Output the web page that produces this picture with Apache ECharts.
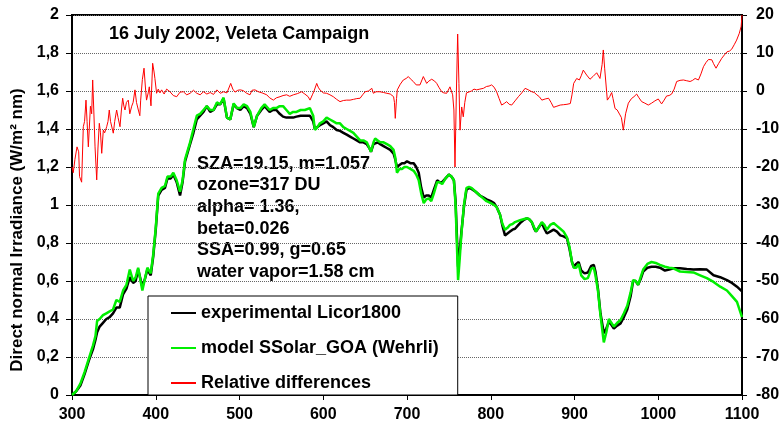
<!DOCTYPE html>
<html>
<head>
<meta charset="utf-8">
<script src="https://cdn.jsdelivr.net/npm/echarts@6/dist/echarts.min.js"></script>
<style>
  html, body { margin: 0; padding: 0; background: #fff; }
  #main { width: 783px; height: 426px; }
</style>
</head>
<body>
<div id="main"></div>
<script>
// wavelength (nm) for the two irradiance curves
var wl = [300, 305, 310, 315, 320, 325, 328, 330, 333, 337, 341, 345, 349, 353, 357, 361, 365, 369, 373, 376,
  379, 384, 387, 390, 394, 397, 400, 403, 407, 411, 414, 418, 421, 425, 429, 432, 435, 441, 445, 449,
  453, 457, 461, 465, 469, 473, 477, 481, 485, 489, 493, 497, 501, 505, 509, 513, 517, 521, 526, 530,
  536, 540, 544, 548, 552, 556, 560, 564, 568, 573, 578, 584, 588, 590, 593, 596, 600, 604, 608, 612,
  616, 620, 624, 628, 632, 636, 640, 644, 648, 652, 655, 657, 660, 662, 665, 668, 672, 676, 680, 684,
  686, 688, 691, 694, 697, 700, 704, 708, 711, 714, 717, 720, 723, 726, 729, 732, 736, 739, 742, 746,
  750, 753, 756, 758, 761, 763, 765, 768, 771, 774, 777, 782, 787, 791, 795, 800, 804, 807, 811, 814,
  817, 820, 823, 826, 829, 832, 835, 839, 843, 846, 849, 852, 854, 857, 861, 864, 867, 871, 875, 879,
  883, 887, 891, 894, 897, 899, 902, 905, 908, 912, 916, 920, 923, 925, 928, 931, 935, 938, 941, 944,
  947, 951, 955, 959, 963, 967, 970, 973, 976, 979, 982, 987, 992, 997, 1002, 1008, 1013, 1018, 1026, 1034,
  1042, 1050, 1058, 1066, 1074, 1082, 1088, 1094, 1100];

// experimental Licor1800 (W/m2 nm)
var licor = [0, 0.02, 0.05, 0.11, 0.18, 0.24, 0.29, 0.33, 0.36, 0.38, 0.40, 0.41, 0.43, 0.46, 0.46, 0.53, 0.56, 0.62, 0.59, 0.60,
  0.66, 0.57, 0.61, 0.66, 0.63, 0.73, 0.87, 1.05, 1.08, 1.09, 1.14, 1.14, 1.16, 1.12, 1.05, 1.12, 1.23, 1.32, 1.38, 1.45,
  1.47, 1.49, 1.52, 1.49, 1.50, 1.53, 1.53, 1.56, 1.46, 1.45, 1.53, 1.51, 1.50, 1.52, 1.51, 1.48, 1.41, 1.47, 1.50, 1.52,
  1.49, 1.50, 1.50, 1.48, 1.465, 1.46, 1.46, 1.46, 1.465, 1.47, 1.47, 1.47, 1.44, 1.40, 1.41, 1.42, 1.43, 1.44, 1.42, 1.41,
  1.395, 1.39, 1.38, 1.37, 1.36, 1.35, 1.34, 1.33, 1.33, 1.32, 1.30, 1.28, 1.32, 1.33, 1.33, 1.32, 1.31, 1.30, 1.29, 1.27,
  1.24, 1.20, 1.21, 1.22, 1.22, 1.23, 1.22, 1.22, 1.20, 1.17, 1.09, 1.04, 1.05, 1.05, 1.04, 1.08, 1.13, 1.12, 1.12, 1.14,
  1.16, 1.15, 1.13, 1.02, 0.675, 0.76, 0.86, 0.99, 1.08, 1.09, 1.085, 1.07, 1.05, 1.04, 1.03, 1.02, 1.01, 0.99, 0.95, 0.89,
  0.84, 0.85, 0.86, 0.87, 0.875, 0.89, 0.905, 0.92, 0.93, 0.925, 0.91, 0.875, 0.86, 0.88, 0.905, 0.875, 0.85, 0.86, 0.87, 0.86,
  0.84, 0.835, 0.825, 0.77, 0.70, 0.675, 0.69, 0.70, 0.655, 0.64, 0.645, 0.68, 0.685, 0.65, 0.56, 0.43, 0.325, 0.35, 0.385, 0.37,
  0.35, 0.365, 0.377, 0.41, 0.45, 0.52, 0.60, 0.60, 0.58, 0.61, 0.65, 0.67, 0.675, 0.675, 0.67, 0.655, 0.66, 0.667, 0.667, 0.663,
  0.66, 0.662, 0.66, 0.63, 0.62, 0.605, 0.59, 0.57, 0.545];

// model SSolar_GOA (Wehrli)
var model = [0, 0.02, 0.06, 0.12, 0.19, 0.26, 0.31, 0.39, 0.40, 0.42, 0.43, 0.44, 0.45, 0.50, 0.49, 0.55, 0.58, 0.66, 0.60, 0.62,
  0.67, 0.55, 0.61, 0.67, 0.64, 0.74, 0.88, 1.06, 1.09, 1.10, 1.15, 1.15, 1.17, 1.13, 1.07, 1.13, 1.24, 1.33, 1.40, 1.47,
  1.48, 1.50, 1.52, 1.50, 1.50, 1.54, 1.53, 1.565, 1.46, 1.45, 1.535, 1.51, 1.51, 1.53, 1.52, 1.49, 1.41, 1.47, 1.51, 1.53,
  1.50, 1.51, 1.51, 1.52, 1.52, 1.50, 1.48, 1.49, 1.49, 1.50, 1.50, 1.51, 1.47, 1.395, 1.41, 1.43, 1.44, 1.46, 1.45, 1.44,
  1.43, 1.43, 1.41, 1.40, 1.39, 1.38, 1.36, 1.34, 1.34, 1.33, 1.30, 1.28, 1.33, 1.35, 1.34, 1.33, 1.33, 1.32, 1.31, 1.29,
  1.25, 1.17, 1.19, 1.19, 1.20, 1.20, 1.19, 1.18, 1.16, 1.13, 1.06, 1.01, 1.03, 1.035, 1.02, 1.06, 1.12, 1.12, 1.11, 1.14,
  1.16, 1.15, 1.13, 1.00, 0.605, 0.72, 0.85, 1.00, 1.09, 1.095, 1.09, 1.07, 1.05, 1.035, 1.02, 1.01, 1.00, 0.99, 0.95, 0.90,
  0.87, 0.88, 0.895, 0.90, 0.91, 0.915, 0.92, 0.925, 0.93, 0.925, 0.91, 0.88, 0.86, 0.88, 0.91, 0.895, 0.87, 0.895, 0.905, 0.89,
  0.875, 0.86, 0.83, 0.78, 0.70, 0.67, 0.67, 0.69, 0.63, 0.61, 0.615, 0.665, 0.67, 0.63, 0.55, 0.42, 0.277, 0.33, 0.40, 0.38,
  0.36, 0.38, 0.395, 0.43, 0.47, 0.54, 0.605, 0.60, 0.58, 0.62, 0.66, 0.69, 0.70, 0.695, 0.685, 0.675, 0.67, 0.667, 0.65, 0.648,
  0.645, 0.63, 0.615, 0.595, 0.57, 0.55, 0.52, 0.49, 0.41];

// relative differences (%), right axis
var wlDiff = [300, 301.5, 303.5, 306, 308, 309, 311.5, 313.5, 315, 316.7, 318, 319.5, 322, 323.5, 324.7, 326, 327.5, 329.5, 331, 332.6,
  334, 335.5, 337.4, 339, 341.4, 343, 344.5, 346, 347.4, 349.3, 351, 353.3, 355, 357.3, 359, 360.5, 362, 363.3, 365, 367.2,
  369, 371.3, 373, 375.2, 377, 379.2, 381, 382, 384, 386, 388, 389, 391, 392.3, 394.3, 396.3, 398, 399, 401, 403,
  405, 407, 410, 413, 417, 421, 425, 429, 433, 437, 441, 445, 449, 453, 457, 461, 465, 469, 473, 477,
  481, 485, 489.5, 492, 494.6, 498, 501, 504.5, 508.6, 512.5, 515, 518.5, 522.5, 527, 532.5, 536, 540.4, 544, 548.4, 552,
  556.3, 560, 564.3, 569, 574.2, 578, 582, 584.2, 587, 589, 592.2, 594, 596, 600, 604, 608, 612, 616, 620, 624,
  628, 632, 636, 640, 644, 647, 650, 654, 658, 659.8, 663, 667.8, 672, 676, 680, 684, 685, 686, 687.5, 688.4,
  692, 695.6, 699, 701.6, 704, 707.5, 711, 715.5, 719.5, 723.5, 726, 729.5, 733, 735.5, 738, 741.4, 744, 747.4, 751.3, 754.5,
  756, 757.3, 759, 760.5, 762, 763.3, 765.3, 767.2, 769, 771, 773.2, 777, 780, 783.2, 787, 791.2, 795, 798, 801, 804,
  807, 810, 813, 816, 819, 822, 825, 829, 833, 837, 841, 845, 849, 852, 855, 858, 861, 865, 869, 872,
  875, 879, 883, 887, 891, 895, 897, 899, 902.6, 905.8, 908, 910.5, 914.5, 918.5, 922, 926.5, 930.4, 933, 934.4, 936,
  939.2, 942, 944.4, 946, 948.4, 951, 954.3, 956, 958.3, 961, 964.3, 968, 971, 974.2, 977, 980.2, 984, 988.1, 992, 996,
  1000, 1004, 1007, 1010, 1013, 1016, 1019, 1022, 1026, 1030, 1034, 1038, 1041, 1044, 1048, 1051, 1054, 1057, 1060, 1064,
  1066, 1069, 1072, 1075.8, 1079, 1082, 1085, 1087.7, 1091, 1093.6, 1096.8, 1099, 1100];

var relDiff = [-20, -21.5, -18, -14.7, -16, -22.5, -24, -9.4, -8, -2.4, -8, -14.7, -4, -6, 2.9, -5, -14.7, -23.4, -15, -8.5,
  -11, -16.4, -10.3, -11, -9.4, -8, -5, -8, -7.6, -11.1, -8, -5, -7, -9.4, -5, -1.9, -4, -5, -3, -2.4,
  -6, -4, -3, 0.3, -3, -5, -6.5, -2.4, 3, 6, 0, -2.4, -0.5, 1.1, -3.9, 7.3, 5, 3.3, -0.6, 0.5,
  -0.5, 0.3, -0.8, 0.5, -0.2, -1.2, -1.5, -0.3, -0.2, -1, -0.6, 0.2, -0.6, -1, -0.2, -0.8, -0.4, -0.9, 0.3, -0.6,
  -0.2, -0.5, 2.0, 0.5, -0.3, 0.2, 0.3, 0.1, -0.6, -1, 0.2, 0.3, -0.2, -0.5, -1, -1.8, -2.4, -1.8, -1.5, -1.2,
  -1, -1.4, -1, -0.7, -0.2, -0.8, -1.5, -2.4, -1, 0, 2.0, 1, 0.3, -0.5, -0.6, -1, -1.5, -2.2, -2.8, -2.5,
  -2.4, -2.4, -2.2, -2, -1.9, -1, -0.2, 0, 0.7, -0.6, -0.2, -0.2, -0.4, -0.6, -0.8, -1.5, -3, -7.2, -2, 0.3,
  1.8, 2.9, 3.3, 3.8, 3.2, 2.5, 1.6, 1.6, 3.8, 2.0, 2.6, 3.1, 2.6, 2.0, 1.0, -0.2, -0.5, -0.6, 1.1, -1,
  -5, -20, 0, 15, 2, -10.3, -4.2, -6.8, -3, -0.5, -0.2, 0, 0.5, 0.3, 0.5, 0.7, 1.2, 1.3, 1.6, 1.0,
  -0.2, -2, -3.7, -3.3, -2.8, -3.5, -3.7, -2.6, -1.5, -0.5, 0.7, 0.3, -0.2, -0.4, -1, -1.5, -2.4, -2.1, -1.9, -3,
  -4.3, -4, -3.7, -3.6, -3.5, -3.3, -1, 2, 3.3, 2.9, 4, 5.5, 4.2, 3.1, 3.8, 4.8, 3.3, 7, 10.8, 6,
  -2.4, -1.5, -0.4, -2, -4.6, -5, -6.3, -7, -10.3, -6, -3.2, -2, -1.5, -0.8, -1.8, -2.8, -3.2, -3.7, -3.2, -2.6,
  -2.1, -3.4, -2.4, -1.3, -1.2, -0.8, 0.5, 2.5, 2.8, 2.9, 2.7, 2.5, 2.8, 3.3, 2.9, 4.5, 6.4, 7.5, 8.3, 8.2,
  7.2, 6.0, 7.2, 8.6, 9.5, 10.3, 10.5, 11, 12.3, 13.4, 15.2, 17, 20];

var seriesNames = ['experimental Licor1800', 'model SSolar_GOA (Wehrli)', 'Relative differences'];
var infoLines = ['SZA=19.15, m=1.057', 'ozone=317 DU', 'alpha= 1.36,', 'beta=0.026', 'SSA=0.99, g=0.65', 'water vapor=1.58 cm'];

function pairs(xs, ys) {
  var out = [];
  for (var i = 0; i < xs.length; i++) out.push([xs[i], ys[i]]);
  return out;
}

var font = 'Liberation Sans, Arial, sans-serif';
var chart = echarts.init(document.getElementById('main'), null, { renderer: 'canvas' });

var option = {
  animation: false,
  backgroundColor: '#fff',
  grid: {
    left: 72, right: 41, top: 15, bottom: 31,
    show: true, borderColor: '#000', borderWidth: 2
  },
  legend: {
    data: seriesNames,
    orient: 'vertical',
    left: 148,
    top: 296,
    padding: [8, 19, 3, 22],
    itemGap: 17,
    itemWidth: 25,
    itemHeight: 14,
    backgroundColor: '#fff',
    borderColor: '#000',
    borderWidth: 1,
    itemStyle: { opacity: 0 },
    textStyle: { fontFamily: font, fontSize: 18, fontWeight: 'bold', color: '#000' }
  },
  xAxis: {
    type: 'value',
    min: 300,
    max: 1100,
    interval: 100,
    axisLine: { lineStyle: { color: '#000', width: 2 } },
    axisTick: { show: true, length: 5, lineStyle: { color: '#000', width: 1 } },
    axisLabel: {
      margin: 12, fontFamily: font, fontSize: 16, fontWeight: 'bold', color: '#000',
      formatter: function (v) { return String(v); }
    },
    splitLine: { show: false }
  },
  yAxis: [{
    type: 'value',
    min: 0,
    max: 2,
    interval: 0.2,
    axisLine: { show: true, lineStyle: { color: '#000', width: 2 } },
    axisTick: { show: true, length: 6, lineStyle: { color: '#000', width: 1 } },
    axisLabel: {
      margin: 13, fontFamily: font, fontSize: 16, fontWeight: 'bold', color: '#000',
      formatter: function (v) { return String(Math.round(v * 10) / 10).replace('.', ','); }
    },
    splitLine: { show: true, lineStyle: { color: '#666', width: 1, type: [1, 1] } }
  }, {
    type: 'value',
    min: -80,
    max: 20,
    interval: 10,
    position: 'right',
    axisLine: { show: true, lineStyle: { color: '#000', width: 2 } },
    axisTick: { show: true, length: 5, lineStyle: { color: '#000', width: 1 } },
    axisLabel: { margin: 14, fontFamily: font, fontSize: 16, fontWeight: 'bold', color: '#000' },
    splitLine: { show: false }
  }],
  graphic: [{
    type: 'text',
    left: 109,
    top: 25,
    style: { text: '16 July 2002, Veleta Campaign', fontFamily: font, fontSize: 18, fontWeight: 'bold', fill: '#000' }
  }, {
    type: 'text',
    left: 197,
    top: 153,
    style: { text: infoLines.join('\n'), lineHeight: 21.6, fontFamily: font, fontSize: 18, fontWeight: 'bold', fill: '#000' }
  }, {
    type: 'text',
    x: 17,
    y: 230,
    rotation: Math.PI / 2,
    style: {
      text: 'Direct normal Irradiance (W/m² nm)', align: 'center', verticalAlign: 'middle',
      fontFamily: font, fontSize: 17, fontWeight: 'bold', fill: '#000'
    }
  }],
  series: [{
    name: seriesNames[0],
    type: 'line',
    yAxisIndex: 0,
    symbol: 'none',
    color: '#000',
    lineStyle: { color: '#000', width: 2.5 },
    data: pairs(wl, licor)
  }, {
    name: seriesNames[1],
    type: 'line',
    yAxisIndex: 0,
    symbol: 'none',
    color: '#00ee00',
    lineStyle: { color: '#00ee00', width: 2.5 },
    data: pairs(wl, model)
  }, {
    name: seriesNames[2],
    type: 'line',
    yAxisIndex: 1,
    symbol: 'none',
    color: '#ff0000',
    lineStyle: { color: '#ff0000', width: 1 },
    data: pairs(wlDiff, relDiff)
  }]
};

chart.setOption(option);
</script>
</body>
</html>
